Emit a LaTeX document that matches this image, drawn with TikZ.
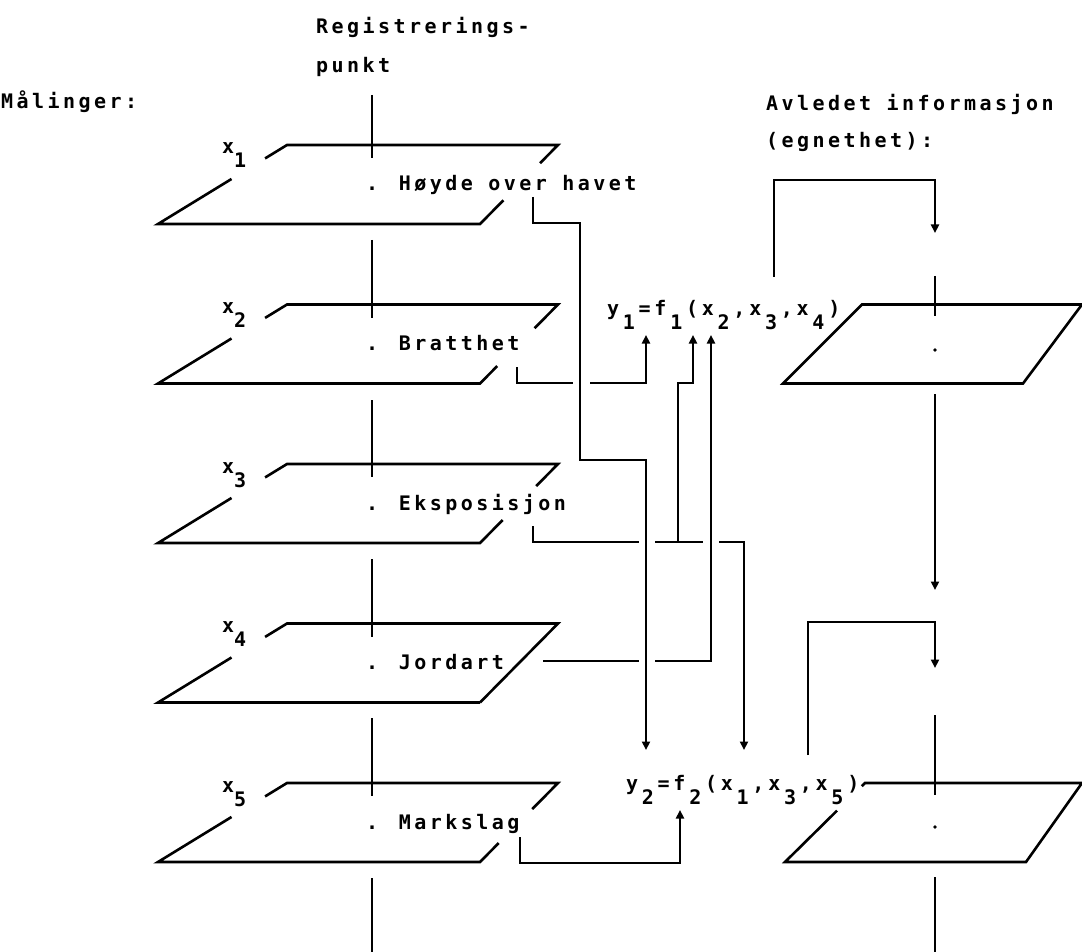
\documentclass[tikz,border=0pt]{standalone}
\usepackage{fontspec}
\newfontfamily\tw[LetterSpace=17.3]{DejaVu Sans Mono}
\newfontfamily\twp{DejaVu Sans Mono}
\usetikzlibrary{calc,arrows.meta}
\newcommand\lowsub[1]{\raisebox{-14pt}{#1}}
\newcommand\cc[1]{\makebox[15.8pt][c]{#1}}
\newcommand\cs[1]{\raisebox{-14pt}{\makebox[15.8pt][c]{#1}}}
\tikzset{
  ln/.style={line width=2.6pt},
  arr/.style={ln,-{Triangle[length=8.5pt,width=8pt]}},
  txt/.style={font={\tw\bfseries\fontsize{20}{20}\selectfont}, inner sep=0pt, anchor=base west},
  frm/.style={font={\twp\bfseries\fontsize{20}{20}\selectfont}, inner sep=0pt, anchor=base west},
}
% left layer: #1 name, #2 top y, #3 #4 right-edge gap fractions
\newcommand\LLayer[4]{%
  \coordinate (#1tl) at (287,#2);
  \coordinate (#1tr) at (558,#2);
  \coordinate (#1br) at (480,#2+79);
  \coordinate (#1bl) at (158,#2+79);
  \draw[ln] ($(#1tl)!0.17!(#1bl)$) -- (#1tl) -- (#1tr) -- ($(#1tr)!#3!(#1br)$);
  \draw[ln] ($(#1tr)!#4!(#1br)$) -- (#1br) -- (#1bl) -- ($(#1tl)!0.43!(#1bl)$);
}
\begin{document}
\begin{tikzpicture}[x=1pt,y=-1pt]
\useasboundingbox (0,0) rectangle (1082,952);

% headings
\node[txt] (reg) at (316,34) {Registrerings-};
\node[txt] (pkt) at (316,73) {punkt};
\node[txt] (mal) at (1,109) {Målinger:};
\node[txt] (avl) at (766,111) {Avledet informasjon};
\node[txt] (egn) at (766,148) {(egnethet):};

% left layers
\LLayer{A}{145}{0.23}{0.70}
\LLayer{B}{304.5}{0.30}{0.78}
\LLayer{C}{464}{0.28}{0.71}
\LLayer{D}{623.5}{1}{1}
\LLayer{E}{783}{0.33}{0.76}

% layer labels
\node[frm] (xa) at (222,154) {x\lowsub{1}};
\node[frm] (xb) at (222,313.5) {x\lowsub{2}};
\node[frm] (xc) at (222,473) {x\lowsub{3}};
\node[frm] (xd) at (222,632.5) {x\lowsub{4}};
\node[frm] (xe) at (222,792) {x\lowsub{5}};

\node[txt] (ta) at (366,191) {. Høyde over havet};
\node[txt] (tb) at (366,350.5) {. Bratthet};
\node[txt] (tc) at (366,510) {. Eksposisjon};
\node[txt] (td) at (366,669.5) {. Jordart};
\node[txt] (te) at (366,829) {. Markslag};

% left axis
\foreach \a/\b in {95/158, 240/318, 400/477, 559/637, 718/796, 878/952}
  \draw[ln] (372,\a) -- (372,\b);

% right layers
\coordinate (Rtl) at (862,304.5); \coordinate (Rtr) at (1082,304.5);
\coordinate (Rbr) at (1023,383.5); \coordinate (Rbl) at (783,383.5);
\draw[ln] (Rtl) -- (Rtr) -- (Rbr) -- (Rbl) -- cycle;
\coordinate (Stl) at (865,783); \coordinate (Str) at (1082,783);
\coordinate (Sbr) at (1026,862); \coordinate (Sbl) at (785,862);
\draw[ln] ($(Stl)!0.04!(Sbl)$) -- (Stl) -- (Str) -- (Sbr) -- (Sbl) -- ($(Stl)!0.35!(Sbl)$);
\fill (935,350) circle (1.8);
\fill (935,827) circle (1.8);

% right axis
\draw[ln] (935,276) -- (935,316);
\draw[ln] (935,715) -- (935,795);
\draw[ln] (935,877) -- (935,952);
\coordinate (rA) at (935,394); \coordinate (rAe) at (935,590);
\draw[arr] (rA) -- (rAe);

% formulas
\node[frm] (f1) at (605,315) {\cc{y}\cs{1}\cc{=}\cc{f}\cs{1}\cc{(}\cc{x}\cs{2}\cc{,}\cc{x}\cs{3}\cc{,}\cc{x}\cs{4}\cc{)}};
\node[frm] (f2) at (624,790) {\cc{y}\cs{2}\cc{=}\cc{f}\cs{2}\cc{(}\cc{x}\cs{1}\cc{,}\cc{x}\cs{3}\cc{,}\cc{x}\cs{5}\cc{)}};

% connectors
\coordinate (hS) at (533,197); \coordinate (hE) at (646,750);
\draw[arr] (hS) |- (580,223) |- (646,460) -- (hE);

\coordinate (bS) at (517,367); \coordinate (bE) at (646,335);
\draw[ln] (bS) |- (573,383);
\draw[arr] (590,383) -| (bE);

\coordinate (eS) at (533,526); \coordinate (eE) at (744,750); \coordinate (eF) at (693,335);
\draw[ln] (eS) |- (639,542);
\draw[ln] (655,542) -- (703,542);
\draw[arr] (719,542) -| (eE);
\draw[arr] (678,542) |- (693,383) -- (eF);

\coordinate (jS) at (543,661); \coordinate (jE) at (711,335);
\draw[ln] (jS) -- (639,661);
\draw[arr] (655,661) -| (jE);

\coordinate (mS) at (520,837); \coordinate (mE) at (680,810);
\draw[arr] (mS) |- (680,863) -- (mE);

\coordinate (p1) at (774,277); \coordinate (p1e) at (935,233);
\draw[arr] (p1) |- (935,180) -- (p1e);
\coordinate (p2) at (808,755); \coordinate (p2e) at (935,668);
\draw[arr] (p2) |- (935,622) -- (p2e);
\end{tikzpicture}
\end{document}
